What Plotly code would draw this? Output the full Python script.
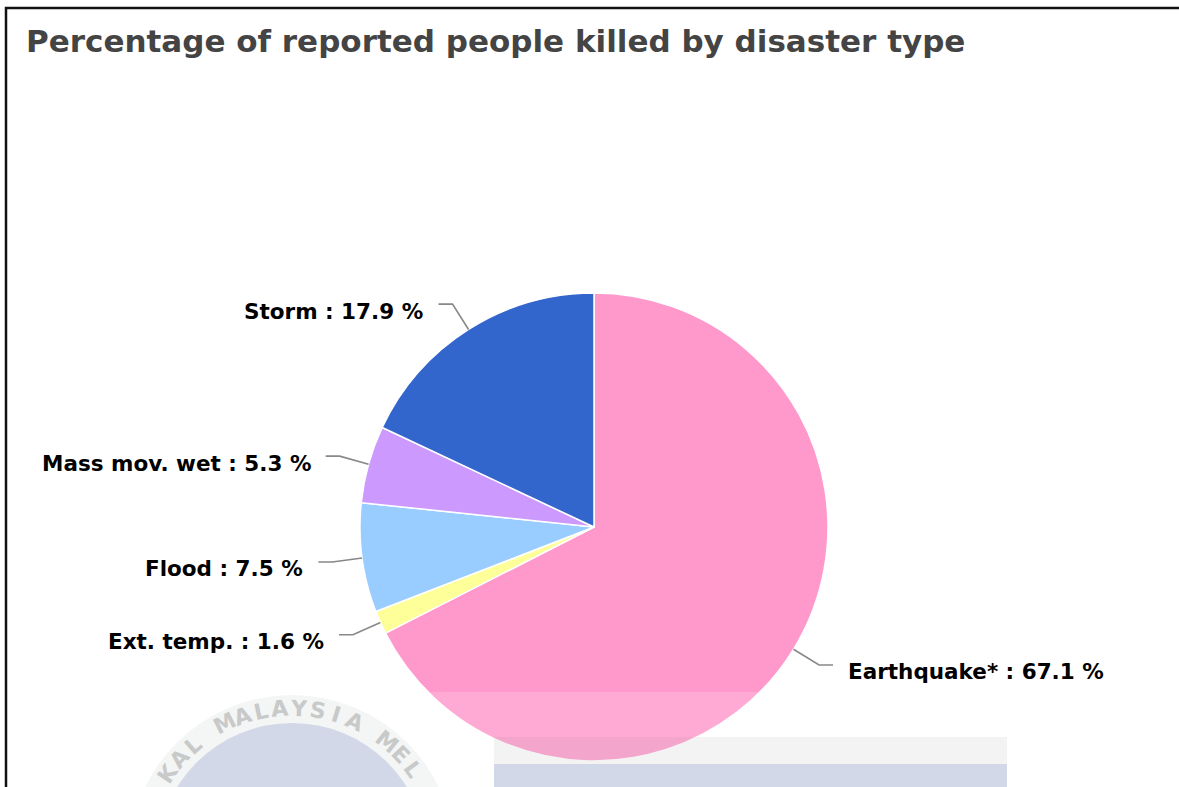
import math
import plotly.graph_objects as go

# ---- data ----
labels = ["Earthquake*", "Ext. temp.", "Flood", "Mass mov. wet", "Storm"]
values = [67.1, 1.6, 7.5, 5.3, 17.9]
colors = ["#FF99CC", "#FFFF99", "#99CCFF", "#CC99FF", "#3366CC"]
title_text = "Percentage of reported people killed by disaster type"

# ---- geometry (pixels) ----
W, H = 1179, 787
CX, CY, R = 594, 527, 234


def px(x):
    return x / W


def py(y):
    return 1 - y / H


fig = go.Figure()
fig.add_trace(go.Pie(
    labels=labels, values=values, sort=False, direction="clockwise", rotation=0,
    marker=dict(colors=colors, line=dict(color="white", width=1.5)),
    textinfo="none", hoverinfo="label+percent", showlegend=False,
    domain=dict(x=[px(CX - R), px(CX + R)], y=[py(CY + R), py(CY - R)]),
))

shapes = []
annotations = []

# leader lines + labels computed from slice mid-angles
total = sum(values)
cum = 0.0
for lab, val in zip(labels, values):
    mid = (cum + val / 2) / total * 2 * math.pi
    cum += val
    s, c = math.sin(mid), math.cos(mid)
    ex, ey = CX + R * s, CY - R * c
    bx, by = CX + (R + 30) * s, CY - (R + 30) * c
    side = 1 if s >= 0 else -1
    hx = bx + side * 14
    shapes.append(dict(
        type="path", xref="paper", yref="paper",
        path=f"M {px(ex)} {py(ey)} L {px(bx)} {py(by)} L {px(hx)} {py(by)}",
        line=dict(color="#888888", width=1.6),
    ))
    annotations.append(dict(
        x=px(hx + side * 13), y=py(by + 7), xref="paper", yref="paper",
        text=f"{lab} : {val} %", showarrow=False,
        xanchor="left" if side > 0 else "right", yanchor="middle",
        font=dict(family="DejaVu Sans", size=21.5, color="#000000", weight="bold"),
    ))

# title
annotations.append(dict(
    x=px(24), y=py(41), xref="paper", yref="paper", text=f"<b>{title_text}</b>",
    showarrow=False, xanchor="left", yanchor="middle",
    font=dict(family="DejaVu Sans", size=31, color="#444444"),
))

# ---- watermark overlay (approximate) ----
shapes.append(dict(type="rect", xref="paper", yref="paper", layer="above",
                   x0=px(0), x1=px(W), y0=py(692), y1=py(737),
                   fillcolor="rgba(255,255,255,0.17)", line=dict(width=0)))
shapes.append(dict(type="rect", xref="paper", yref="paper", layer="above",
                   x0=px(494), x1=px(1007), y0=py(737), y1=py(764),
                   fillcolor="rgba(204,204,204,0.235)", line=dict(width=0)))
shapes.append(dict(type="rect", xref="paper", yref="paper", layer="above",
                   x0=px(494), x1=px(1007), y0=py(764), y1=py(800),
                   fillcolor="#D3D8E8", line=dict(width=0)))
WX, WY, WR1, WR2 = 292, 858, 163, 135
shapes.append(dict(type="circle", xref="paper", yref="paper", layer="above",
                   x0=px(WX - WR1), x1=px(WX + WR1), y0=py(WY + WR1), y1=py(WY - WR1),
                   fillcolor="#F4F5F5", line=dict(width=0)))
shapes.append(dict(type="circle", xref="paper", yref="paper", layer="above",
                   x0=px(WX - WR2), x1=px(WX + WR2), y0=py(WY + WR2), y1=py(WY - WR2),
                   fillcolor="#D3D8E8", line=dict(width=0)))
ring_text = "KAL MALAYSIA MEL"
step = 7.3
start = -26.6 - 4 * step
for i, ch in enumerate(ring_text):
    if ch == " ":
        continue
    a = math.radians(start + i * step)
    rt = (WR1 + WR2) / 2 + 1
    annotations.append(dict(
        x=px(WX + rt * math.sin(a)), y=py(WY - rt * math.cos(a)),
        xref="paper", yref="paper", text=f"<b>{ch}</b>", showarrow=False,
        textangle=start + i * step, xanchor="center", yanchor="middle",
        font=dict(family="DejaVu Sans", size=22, color="#C8C9C9"),
    ))

# frame border
shapes.append(dict(type="rect", xref="paper", yref="paper", layer="above",
                   x0=px(6), x1=px(W + 20), y0=py(H + 20), y1=py(8),
                   line=dict(color="#111111", width=2.5)))

fig.update_layout(
    width=W, height=H, margin=dict(l=0, r=0, t=0, b=0),
    paper_bgcolor="white", plot_bgcolor="white",
    shapes=shapes, annotations=annotations,
)
fig.write_html("out.html")
